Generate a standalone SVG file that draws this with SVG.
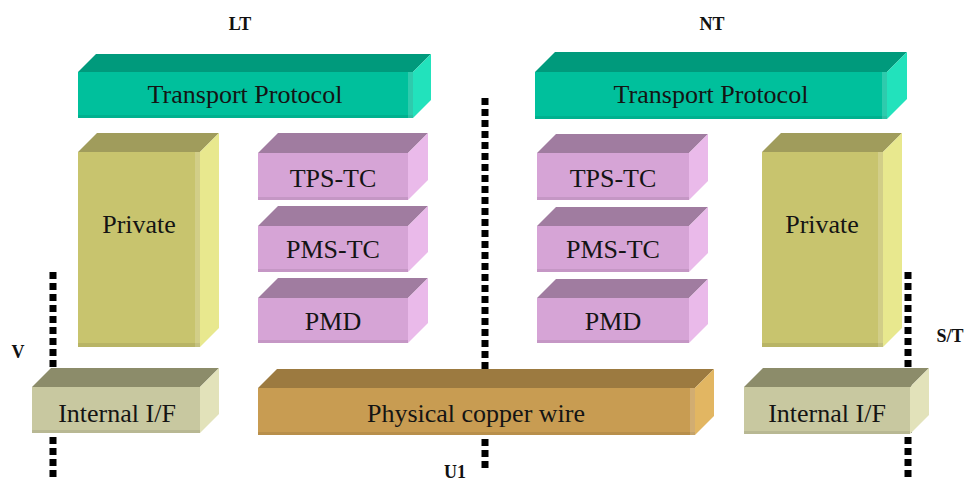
<svg xmlns="http://www.w3.org/2000/svg" width="968" height="481" viewBox="0 0 968 481">
  <style>
    text { font-family: 'Liberation Serif', 'DejaVu Serif', serif; }
    .lbl { font-size: 26px; fill: #141414; text-anchor: middle; }
    .ref { font-size: 18px; font-weight: bold; fill: #111; text-anchor: middle; }
    .dots { stroke: #000; stroke-width: 7; stroke-dasharray: 7 4; fill: none; }
    .tp .front { fill: #00C09C; } .tp .top { fill: #009A7C; } .tp .side { fill: #22E2BC; }
    .pv .front { fill: #C8C46E; } .pv .top { fill: #A09C5C; } .pv .side { fill: #E8E88E; }
    .pu .front { fill: #D6A4D6; } .pu .top { fill: #A07CA0; } .pu .side { fill: #EABAEA; }
    .ifc .front { fill: #C8C8A0; } .ifc .top { fill: #8C8C6A; } .ifc .side { fill: #E2E2BA; }
    .cu .front { fill: #C89C52; } .cu .top { fill: #9C7A40; } .cu .side { fill: #E2B662; }
    .edge { fill: #000; opacity: 0.08; }
    .hl { fill: #fff; opacity: 0.18; }
  </style>

  <!-- reference point lines (drawn first so boxes cover them) -->
  <g id="connectors">
    <line class="dots" x1="53" y1="272" x2="53" y2="481"/>
    <line class="dots" x1="485" y1="98" x2="485" y2="472"/>
    <line class="dots" x1="908" y1="272" x2="908" y2="481"/>
  </g>

  <g font-family="Liberation Serif, DejaVu Serif, serif">
  <!-- LT side -->
  <g id="lt-transport" class="tp">
    <polygon class="top" points="78,72 96,54 431,54 413,72"/>
    <polygon class="side" points="413,72 431,54 431,100 413,118"/>
    <rect class="front" x="78" y="72" width="335" height="46"/>
    <rect class="edge" x="78" y="115" width="335" height="3"/>
    <rect class="hl" x="408" y="72" width="5" height="46"/>
    <text class="lbl" x="245" y="103">Transport Protocol</text>
  </g>

  <g id="lt-private" class="pv">
    <polygon class="top" points="78,152 97,133 219,133 200,152"/>
    <polygon class="side" points="200,152 219,133 219,328 200,347"/>
    <rect class="front" x="78" y="152" width="122" height="195"/>
    <rect class="edge" x="78" y="343" width="122" height="4"/>
    <rect class="hl" x="195" y="152" width="5" height="195"/>
    <text class="lbl" x="139" y="233">Private</text>
  </g>

  <g id="lt-tps-tc" class="pu">
    <polygon class="top" points="258,153 278,133 428,133 408,153"/>
    <polygon class="side" points="408,153 428,133 428,180 408,200"/>
    <rect class="front" x="258" y="153" width="150" height="47"/>
    <rect class="edge" x="258" y="197" width="150" height="3"/>
    <text class="lbl" x="333" y="187">TPS-TC</text>
  </g>

  <g id="lt-pms-tc" class="pu">
    <polygon class="top" points="258,226 278,206 428,206 408,226"/>
    <polygon class="side" points="408,226 428,206 428,252 408,272"/>
    <rect class="front" x="258" y="226" width="150" height="46"/>
    <rect class="edge" x="258" y="269" width="150" height="3"/>
    <text class="lbl" x="333" y="258">PMS-TC</text>
  </g>

  <g id="lt-pmd" class="pu">
    <polygon class="top" points="258,298 278,278 428,278 408,298"/>
    <polygon class="side" points="408,298 428,278 428,323 408,343"/>
    <rect class="front" x="258" y="298" width="150" height="45"/>
    <rect class="edge" x="258" y="340" width="150" height="3"/>
    <text class="lbl" x="333" y="330">PMD</text>
  </g>

  <g id="lt-internal" class="ifc">
    <polygon class="top" points="32,387 51,368 219,368 200,387"/>
    <polygon class="side" points="200,387 219,368 219,414 200,433"/>
    <rect class="front" x="32" y="387" width="168" height="46"/>
    <rect class="edge" x="32" y="430" width="168" height="3"/>
    <text class="lbl" x="117" y="422">Internal I/F</text>
  </g>

  <!-- shared line -->
  <g id="copper" class="cu">
    <polygon class="top" points="258,388 277,369 714,369 695,388"/>
    <polygon class="side" points="695,388 714,369 714,416 695,435"/>
    <rect class="front" x="258" y="388" width="437" height="47"/>
    <rect class="edge" x="258" y="432" width="437" height="3"/>
    <rect class="hl" x="690" y="388" width="5" height="47"/>
    <text class="lbl" x="476" y="422">Physical copper wire</text>
  </g>

  <!-- NT side -->
  <g id="nt-transport" class="tp">
    <polygon class="top" points="535,72 555,52 907,52 887,72"/>
    <polygon class="side" points="887,72 907,52 907,99 887,119"/>
    <rect class="front" x="535" y="72" width="352" height="47"/>
    <rect class="edge" x="535" y="116" width="352" height="3"/>
    <rect class="hl" x="882" y="72" width="5" height="47"/>
    <text class="lbl" x="711" y="103">Transport Protocol</text>
  </g>

  <g id="nt-tps-tc" class="pu">
    <polygon class="top" points="537,153 556,134 708,134 689,153"/>
    <polygon class="side" points="689,153 708,134 708,181 689,200"/>
    <rect class="front" x="537" y="153" width="152" height="47"/>
    <rect class="edge" x="537" y="197" width="152" height="3"/>
    <text class="lbl" x="613" y="187">TPS-TC</text>
  </g>

  <g id="nt-pms-tc" class="pu">
    <polygon class="top" points="537,226 556,207 708,207 689,226"/>
    <polygon class="side" points="689,226 708,207 708,253 689,272"/>
    <rect class="front" x="537" y="226" width="152" height="46"/>
    <rect class="edge" x="537" y="269" width="152" height="3"/>
    <text class="lbl" x="613" y="258">PMS-TC</text>
  </g>

  <g id="nt-pmd" class="pu">
    <polygon class="top" points="537,298 556,279 708,279 689,298"/>
    <polygon class="side" points="689,298 708,279 708,324 689,343"/>
    <rect class="front" x="537" y="298" width="152" height="45"/>
    <rect class="edge" x="537" y="340" width="152" height="3"/>
    <text class="lbl" x="613" y="330">PMD</text>
  </g>

  <g id="nt-private" class="pv">
    <polygon class="top" points="762,152 781,133 902,133 883,152"/>
    <polygon class="side" points="883,152 902,133 902,328 883,347"/>
    <rect class="front" x="762" y="152" width="121" height="195"/>
    <rect class="edge" x="762" y="343" width="121" height="4"/>
    <rect class="hl" x="878" y="152" width="5" height="195"/>
    <text class="lbl" x="822" y="233">Private</text>
  </g>

  <g id="nt-internal" class="ifc">
    <polygon class="top" points="744,387 763,368 929,368 910,387"/>
    <polygon class="side" points="910,387 929,368 929,415 910,434"/>
    <rect class="front" x="744" y="387" width="166" height="47"/>
    <rect class="edge" x="744" y="431" width="166" height="3"/>
    <text class="lbl" x="827" y="422">Internal I/F</text>
  </g>

  <!-- reference point and side labels -->
  <g id="labels">
    <text class="ref" x="240" y="30">LT</text>
    <text class="ref" x="712" y="30">NT</text>
    <text class="ref" x="18" y="358">V</text>
    <text class="ref" x="950" y="342">S/T</text>
    <text class="ref" x="455" y="478">U1</text>
  </g>
  </g>
</svg>
